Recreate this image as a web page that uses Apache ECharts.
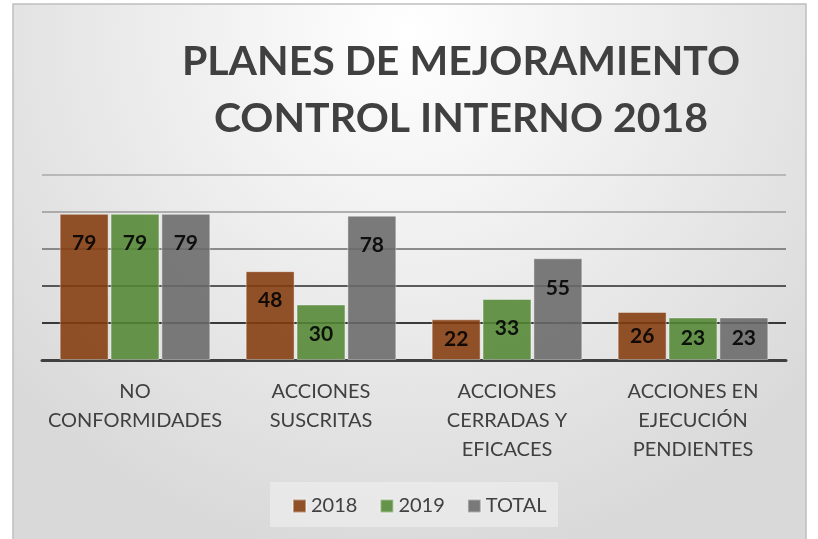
<!DOCTYPE html>
<html><head><meta charset="utf-8">
<script src="https://cdn.jsdelivr.net/npm/echarts@6/dist/echarts.min.js"></script>
<style>html,body{margin:0;padding:0;background:#fff}#c{width:818px;height:539px}</style>
</head><body><div id="c"></div>
<script>
const categories = ['NO\nCONFORMIDADES', 'ACCIONES\nSUSCRITAS', 'ACCIONES\nCERRADAS Y\nEFICACES', 'ACCIONES EN\nEJECUCIÓN\nPENDIENTES'];
const seriesNames = ['2018', '2019', 'TOTAL'];
const values2018 = [79, 48, 22, 26];
const values2019 = [79, 30, 33, 23];
const valuesTotal = [79, 78, 55, 23];
const yTicks = [0, 20, 40, 60, 80, 100];

const colors = ['#833b0e', '#528633', '#696969'];
const chart = echarts.init(document.getElementById('c'), null, {renderer: 'canvas'});
const FONT = 'Lato';

function mkSeries(name, vals, color) {
  return {
    name: name, type: 'bar', barGap: '4%', barCategoryGap: '19%',
    itemStyle: {color: color, opacity: 0.88, borderColor: 'rgba(255,255,255,0.45)', borderWidth: 1},
    data: vals.map(v => ({
      value: v,
      label: {position: v < 30 ? 'inside' : 'insideTop', distance: 19}
    })),
    label: {show: true, color: '#000', fontWeight: 'bold', fontSize: 21, fontFamily: FONT},
    z: 3
  };
}

chart.setOption({
  animation: false,
  graphic: [{
    type: 'rect', shape: {x: 13, y: 4, width: 793, height: 560}, z: -10,
    style: {
      fill: new echarts.graphic.RadialGradient(0.5, 0.05, 0.95, [
        {offset: 0, color: '#ffffff'}, {offset: 1, color: '#d9d9d9'}]),
      stroke: '#bfbfbf', lineWidth: 1.5
    }
  }, {
    type: 'rect', shape: {x: 270, y: 482, width: 288, height: 45}, z: -5,
    style: {fill: 'rgba(240,240,240,0.6)'}
  }],
  title: {
    text: 'PLANES DE MEJORAMIENTO\nCONTROL INTERNO 2018',
    left: 456, top: 28, textAlign: 'center',
    textStyle: {fontFamily: FONT, fontWeight: 'bold', fontSize: 41, color: '#404040', lineHeight: 57}
  },
  legend: {
    data: seriesNames, bottom: 18, left: 287, itemWidth: 13, itemHeight: 13, itemGap: 22,
    icon: 'rect',
    textStyle: {fontFamily: FONT, fontSize: 20, color: '#404040'}
  },
  grid: {left: 42, right: 32, top: 175, bottom: 179},
  xAxis: {
    type: 'category', data: categories,
    axisLine: {lineStyle: {color: '#404040', width: 3}},
    axisTick: {show: false},
    axisLabel: {fontFamily: FONT, fontSize: 20, color: '#404040', lineHeight: 29, margin: 17, interval: 0}
  },
  yAxis: {
    type: 'value', min: yTicks[0], max: yTicks[yTicks.length - 1], interval: 20,
    axisLabel: {show: false}, axisLine: {show: false}, axisTick: {show: false},
    splitLine: {lineStyle: {color: ['#000', '#000', '#2a2a2a', '#6a6a6a', '#999', '#aaa'], width: 1.5}}
  },
  series: [
    mkSeries(seriesNames[0], values2018, colors[0]),
    mkSeries(seriesNames[1], values2019, colors[1]),
    mkSeries(seriesNames[2], valuesTotal, colors[2])
  ]
});
</script></body></html>
